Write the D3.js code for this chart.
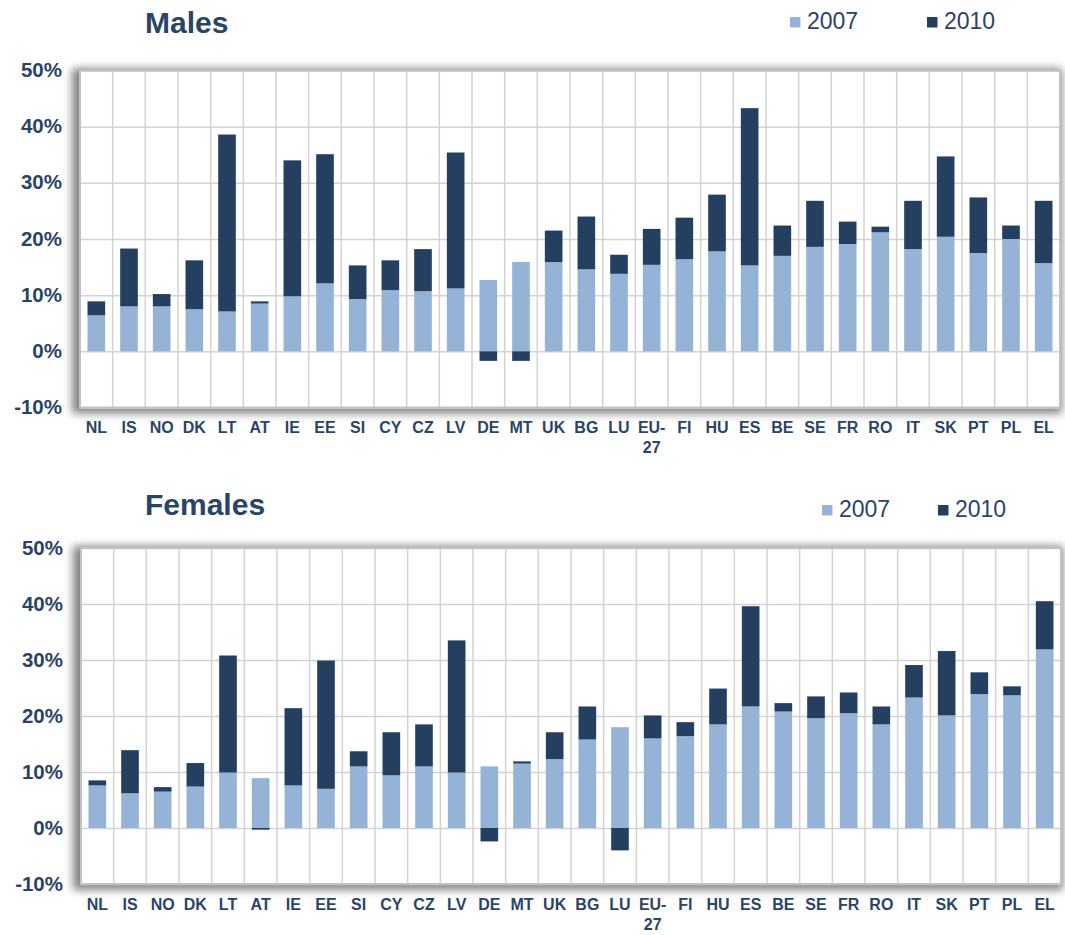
<!DOCTYPE html>
<html>
<head>
<meta charset="utf-8">
<script src="https://cdn.jsdelivr.net/npm/d3@7"></script>
<style>
  html, body { margin: 0; padding: 0; background: #ffffff; }
  svg { display: block; }
  text { font-family: "Liberation Sans", Arial, sans-serif; }
</style>
</head>
<body>
<svg id="chart" width="1065" height="935"></svg>
<script>
// ---- Data ----
const categories = ["NL","IS","NO","DK","LT","AT","IE","EE","SI","CY","CZ","LV","DE","MT","UK","BG","LU","EU-27","FI","HU","ES","BE","SE","FR","RO","IT","SK","PT","PL","EL"];
const seriesNames = ["2007", "2010"];
const yTicks = [-10, 0, 10, 20, 30, 40, 50];

// Males: 2007 level, and the 2010 segment stacked on it (change 2007 -> 2010)
const males2007 = [6.4, 8.0, 8.0, 7.5, 7.1, 8.5, 9.8, 12.1, 9.3, 10.9, 10.7, 11.2, 12.7, 15.9, 15.9, 14.6, 13.8, 15.4, 16.4, 17.8, 15.3, 17.0, 18.6, 19.1, 21.2, 18.2, 20.4, 17.5, 20.0, 15.7];
const males2010 = [2.5, 10.3, 2.2, 8.7, 31.5, 0.4, 24.2, 23.0, 6.0, 5.3, 7.5, 24.2, -1.7, -1.7, 5.6, 9.4, 3.4, 6.4, 7.4, 10.1, 28.0, 5.4, 8.2, 4.0, 1.0, 8.6, 14.3, 9.9, 2.4, 11.1];

// Females
const females2007 = [7.6, 6.2, 6.5, 7.4, 9.9, 8.9, 7.6, 7.0, 11.0, 9.4, 11.0, 9.9, 11.0, 11.5, 12.3, 15.8, 18.0, 16.0, 16.4, 18.5, 21.7, 20.8, 19.6, 20.5, 18.5, 23.3, 20.1, 23.9, 23.7, 31.9];
const females2010 = [0.9, 7.7, 0.8, 4.2, 20.9, -0.3, 13.8, 22.9, 2.7, 7.7, 7.5, 23.6, -2.4, 0.4, 4.8, 5.9, -4.0, 4.1, 2.5, 6.4, 17.9, 1.5, 3.9, 3.7, 3.2, 5.8, 11.5, 3.9, 1.6, 8.6];

// ---- Styles ----
const colors = { "2007": "#95b3d7", "2010": "#253f60" };
const textColor = "#2a4467";

const svg = d3.select("#chart");
svg.append("rect").attr("width", 1065).attr("height", 935).attr("fill", "#fff");

const defs = svg.append("defs");
const f = defs.append("filter").attr("id", "shadow")
  .attr("x", "-10%").attr("y", "-20%").attr("width", "120%").attr("height", "140%");
f.append("feGaussianBlur").attr("stdDeviation", 4);

function drawChart(cfg) {
  const { title, v2007, v2010, left, right, top, bottom, titleY, legendY, legendX } = cfg;
  const g = svg.append("g");

  const rows = categories.map((c, i) => ({ cat: c, "2007": v2007[i], "2010": v2010[i] }));
  const stacked = d3.stack().keys(seriesNames).offset(d3.stackOffsetDiverging)(rows);

  const x = d3.scaleBand().domain(categories).range([left, right]).padding(0);
  const y = d3.scaleLinear().domain([-10, 50]).range([bottom, top]);
  const barW = x.bandwidth() * 0.54;

  // shadow + plot background
  g.append("rect")
    .attr("x", left - 8).attr("y", top - 2).attr("width", right - left + 10).attr("height", bottom - top + 8)
    .attr("fill", "#6e6e6e").attr("opacity", 0.85).attr("filter", "url(#shadow)");
  g.append("rect")
    .attr("x", left).attr("y", top).attr("width", right - left).attr("height", bottom - top)
    .attr("fill", "#fff");

  // horizontal gridlines
  g.append("g")
    .attr("transform", `translate(${left},0)`)
    .call(d3.axisLeft(y).tickValues(yTicks).tickSize(-(right - left)).tickFormat(""))
    .call(s => s.select(".domain").remove())
    .call(s => s.selectAll("line").attr("stroke", "#d2d2d2").attr("stroke-width", 1.5));

  // vertical gridlines at category boundaries
  g.append("g").selectAll("line")
    .data(categories.slice(1))
    .join("line")
    .attr("x1", d => x(d)).attr("x2", d => x(d))
    .attr("y1", top).attr("y2", bottom)
    .attr("stroke", "#d2d2d2").attr("stroke-width", 1.5);

  // bars
  g.append("g").selectAll("g")
    .data(stacked)
    .join("g")
    .attr("fill", d => colors[d.key])
    .selectAll("rect")
    .data(d => d)
    .join("rect")
    .attr("x", d => x(d.data.cat) + (x.bandwidth() - barW) / 2)
    .attr("width", barW)
    .attr("y", d => y(Math.max(d[0], d[1])))
    .attr("height", d => Math.abs(y(d[0]) - y(d[1])));

  // border
  g.append("rect")
    .attr("x", left).attr("y", top).attr("width", right - left).attr("height", bottom - top)
    .attr("fill", "none").attr("stroke", "#c2c2c2").attr("stroke-width", 2);

  // y axis labels
  g.append("g")
    .attr("transform", `translate(${left},0)`)
    .call(d3.axisLeft(y).tickValues(yTicks).tickSize(0).tickPadding(18).tickFormat(d => d + "%"))
    .call(s => s.select(".domain").remove())
    .call(s => s.selectAll("text")
      .attr("fill", textColor)
      .attr("font-size", 20.5)
      .attr("font-weight", "bold")
      .attr("font-family", "'Liberation Sans', Arial, sans-serif")
      .attr("dy", "0.3em"));

  // x axis labels
  const xa = g.append("g")
    .attr("transform", `translate(0,${bottom})`)
    .call(d3.axisBottom(x).tickSize(0).tickFormat(""));
  xa.select(".domain").remove();
  xa.selectAll(".tick").each(function (d) {
    const t = d3.select(this).append("text")
      .attr("fill", textColor)
      .attr("font-size", 16)
      .attr("font-weight", "bold")
      .attr("font-family", "'Liberation Sans', Arial, sans-serif")
      .attr("text-anchor", "middle")
      .attr("y", 25.5);
    if (d === "EU-27") {
      t.append("tspan").attr("x", 0).text("EU-");
      t.append("tspan").attr("x", 0).attr("dy", 20).text("27");
    } else {
      t.text(d);
    }
  });

  // title
  g.append("text")
    .attr("x", 145).attr("y", titleY)
    .attr("fill", textColor)
    .attr("font-size", 30)
    .attr("font-weight", "bold")
    .text(title);

  // legend
  seriesNames.forEach((s, i) => {
    const lx = legendX[i];
    g.append("rect")
      .attr("x", lx).attr("y", legendY - 12).attr("width", 10.5).attr("height", 10.5)
      .attr("fill", colors[s]);
    g.append("text")
      .attr("x", lx + 17).attr("y", legendY)
      .attr("fill", textColor)
      .attr("font-size", 23)
      .text(s);
  });
}

drawChart({
  title: "Males", v2007: males2007, v2010: males2010,
  left: 80, right: 1060, top: 70.5, bottom: 407.5,
  titleY: 33, legendY: 29, legendX: [790, 927]
});

drawChart({
  title: "Females", v2007: females2007, v2010: females2010,
  left: 81, right: 1061, top: 548, bottom: 884,
  titleY: 515, legendY: 517, legendX: [822, 938]
});
</script>
</body>
</html>
